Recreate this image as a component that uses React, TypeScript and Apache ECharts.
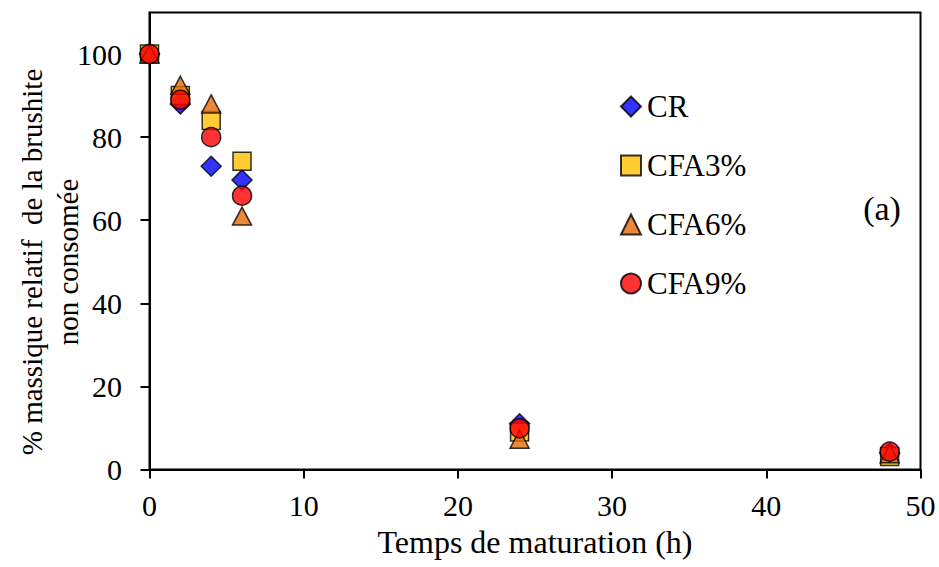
import React, { useEffect, useRef } from "react";
import * as echarts from "echarts";

const hours = [0, 2, 4, 6, 24, 48];
const crValues = [100, 88, 73, 69.7, 11, 4];
const cfa3Values = [100, 90, 84, 74.2, 9, 3.1];
const cfa6Values = [100, 92.5, 88, 61, 7.3, 3.8];
const cfa9Values = [100, 89, 80, 65.9, 9.9, 4.3];
const xTicks = [0, 10, 20, 30, 40, 50];
const yTicks = [0, 20, 40, 60, 80, 100];

const FONT = "'Liberation Serif', 'Times New Roman', serif";

export default function App() {
  const ref = useRef<HTMLDivElement>(null);
  useEffect(() => {
    if (!ref.current) return;
    const chart = echarts.init(ref.current, null, { renderer: "svg" });
    const mk = (vals: number[]) => hours.map((h, i) => [h, vals[i]]);
    const border = { borderColor: "#000", borderWidth: 1.5 };
    chart.setOption({
      animation: false,
      backgroundColor: "#fff",
      textStyle: { fontFamily: FONT },
      grid: {
        left: 149.5,
        top: 12.5,
        right: 18.5,
        bottom: 97.5,
        show: true,
        borderColor: "#000",
        borderWidth: 2,
        backgroundColor: "transparent",
      },
      xAxis: {
        type: "value",
        min: 0,
        max: 50,
        interval: 10,
        name: "Temps de maturation (h)",
        nameLocation: "middle",
        nameGap: 56.5,
        nameTextStyle: { fontFamily: FONT, fontSize: 32, color: "#000" },
        axisLine: { show: true, lineStyle: { color: "#000", width: 2 } },
        axisTick: { show: true, length: 9, lineStyle: { color: "#000", width: 2 }, customValues: xTicks },
        axisLabel: { fontFamily: FONT, fontSize: 30, color: "#000", margin: 20.5, customValues: xTicks },
        splitLine: { show: false },
      },
      yAxis: {
        type: "value",
        min: 0,
        max: 110,
        interval: 20,
        axisLine: { show: true, lineStyle: { color: "#000", width: 2 } },
        axisTick: { show: true, length: 9, lineStyle: { color: "#000", width: 2 }, customValues: yTicks },
        axisLabel: { fontFamily: FONT, fontSize: 30, color: "#000", margin: 27.5, customValues: yTicks },
        splitLine: { show: false },
      },
      legend: {
        orient: "vertical",
        left: 620,
        top: 91,
        padding: 0,
        itemWidth: 20,
        itemHeight: 20,
        itemGap: 28,
        textStyle: { fontFamily: FONT, fontSize: 31, color: "#000", padding: [0, 0, 0, 1] },
        data: ["CR", "CFA3%", "CFA6%", "CFA9%"],
      },
      graphic: [
        {
          type: "text",
          x: 50,
          y: 262,
          rotation: Math.PI / 2,
          style: {
            text: "% massique relatif  de la brushite\nnon consomée",
            fontFamily: FONT,
            fontSize: 29,
            lineHeight: 36,
            fill: "#000",
            textAlign: "center",
            textVerticalAlign: "middle",
          },
        },
        {
          type: "text",
          x: 882,
          y: 208.5,
          style: {
            text: "(a)",
            fontFamily: FONT,
            fontSize: 34,
            fill: "#000",
            textAlign: "center",
            textVerticalAlign: "middle",
          },
        },
      ],
      series: [
        {
          name: "CR",
          type: "scatter",
          symbol: "diamond",
          symbolSize: 20,
          itemStyle: { color: "#0000FF", ...border },
          data: mk(crValues),
        },
        {
          name: "CFA3%",
          type: "scatter",
          symbol: "rect",
          symbolSize: 18,
          itemStyle: { color: "#FFC000", ...border },
          data: mk(cfa3Values),
        },
        {
          name: "CFA6%",
          type: "scatter",
          symbol: "triangle",
          symbolSize: [19, 18],
          itemStyle: { color: "#E46C0A", ...border },
          data: mk(cfa6Values),
        },
        {
          name: "CFA9%",
          type: "scatter",
          symbol: "circle",
          symbolSize: 19,
          itemStyle: { color: "#FF0000", ...border },
          data: mk(cfa9Values),
        },
      ],
    });
    return () => chart.dispose();
  }, []);
  return (
    <div
      ref={ref}
      style={{ position: "absolute", left: 0, top: 0, width: 939, height: 567 }}
    />
  );
}
